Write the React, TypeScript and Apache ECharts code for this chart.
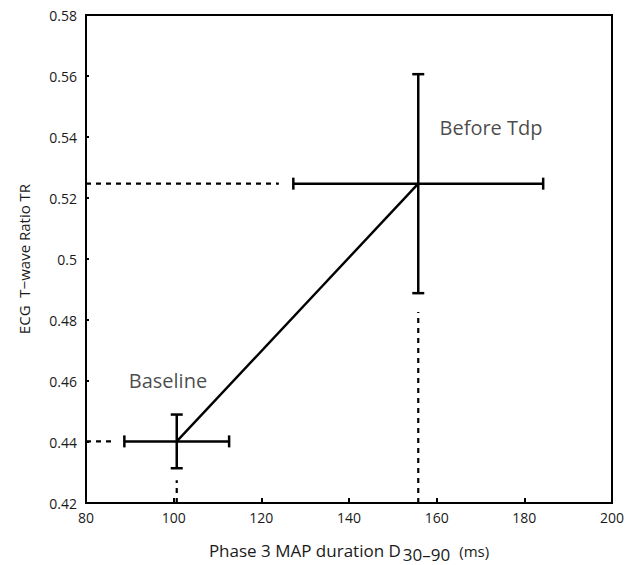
import React, { useEffect, useRef } from "react";
import * as echarts from "echarts";

// ---- data ----
const pointNames = ["Baseline", "Before Tdp"];
const meanD = [100.7, 155.8]; // Phase 3 MAP duration D30-90 (ms)
const meanTR = [0.4402, 0.5247]; // ECG T-wave ratio TR
const errD = [11.95, 28.5];
const errTR = [0.0088, 0.0359];
// dashed guide ends (from the axes toward each point)
const guideEndD = [86.6, 124.0];
const guideEndTR = [0.4275, 0.4826];
// annotation anchors
const labelD = [98.7, 172.4];
const labelTR = [0.4602, 0.5432];

const xTicks = { min: 80, max: 200, interval: 20 };
const yTicks = { min: 0.42, max: 0.58, interval: 0.02 };

const FONT = "Open Sans";
const TXT = "#1a1a1a";

export default function App() {
  const ref = useRef<HTMLDivElement>(null);
  useEffect(() => {
    if (!ref.current) return;
    const chart = echarts.init(ref.current, null, { renderer: "svg" });

    const errData = pointNames.map((_, i) => [
      meanD[i],
      meanTR[i],
      meanD[i] - errD[i],
      meanD[i] + errD[i],
      meanTR[i] - errTR[i],
      meanTR[i] + errTR[i],
    ]);

    const dashStyle = { color: "#000", width: 2.2, type: [5, 5] as any };
    const guideSeries: any[] = [];
    pointNames.forEach((_, i) => {
      guideSeries.push({
        type: "line",
        data: [
          [xTicks.min, meanTR[i]],
          [guideEndD[i], meanTR[i]],
        ],
        symbol: "none",
        lineStyle: dashStyle,
        silent: true,
        z: 2,
      });
      guideSeries.push({
        type: "line",
        data: [
          [meanD[i], yTicks.min],
          [meanD[i], guideEndTR[i]],
        ],
        symbol: "none",
        lineStyle: dashStyle,
        silent: true,
        z: 2,
      });
    });

    chart.setOption({
      animation: false,
      backgroundColor: "#fff",
      textStyle: { fontFamily: FONT },
      grid: {
        left: 86,
        right: 21,
        top: 15,
        bottom: 62,
        outerBoundsMode: "none",
        containLabel: false,
        show: true,
        borderColor: "#000",
        borderWidth: 2,
        backgroundColor: "transparent",
      },
      xAxis: {
        type: "value",
        min: xTicks.min,
        max: xTicks.max,
        interval: xTicks.interval,
        splitLine: { show: false },
        axisLine: { show: true, lineStyle: { color: "#000", width: 2 } },
        axisTick: { show: true, inside: true, length: 5, lineStyle: { color: "#000", width: 2 } },
        axisLabel: { color: TXT, fontSize: 14, margin: 7, fontFamily: FONT },
        name: "{a|Phase 3 MAP duration D}{b|30–90}{c|(ms)}",
        nameLocation: "middle",
        nameGap: 35,
        nameTextStyle: {
          color: TXT,
          fontFamily: FONT,
          rich: {
            a: { fontSize: 17, lineHeight: 25, verticalAlign: "middle", color: TXT, fontFamily: FONT },
            b: { fontSize: 17, lineHeight: 15, verticalAlign: "bottom", color: TXT, fontFamily: FONT, padding: [0, 0, 0, 2] },
            c: { fontSize: 15, lineHeight: 23, verticalAlign: "middle", color: TXT, fontFamily: FONT, padding: [0, 0, 0, 9] },
          },
        },
      },
      yAxis: {
        type: "value",
        min: yTicks.min,
        max: yTicks.max,
        interval: yTicks.interval,
        splitLine: { show: false },
        axisLine: { show: true, lineStyle: { color: "#000", width: 2 } },
        axisTick: { show: true, inside: true, length: 3, lineStyle: { color: "#000", width: 2 } },
        axisLabel: { color: TXT, fontSize: 14, margin: 9, fontFamily: FONT },
        name: "ECG  T−wave Ratio TR",
        nameLocation: "middle",
        nameGap: 55,
        nameTextStyle: { color: TXT, fontSize: 15, fontFamily: FONT },
      },
      series: [
        ...guideSeries,
        {
          type: "line",
          data: pointNames.map((_, i) => [meanD[i], meanTR[i]]),
          symbol: "none",
          lineStyle: { color: "#000", width: 2.4 },
          silent: true,
          z: 3,
        },
        {
          type: "custom",
          data: errData,
          z: 4,
          silent: true,
          renderItem: (params: any, api: any) => {
            const x = api.value(0);
            const y = api.value(1);
            const l = api.coord([api.value(2), y]);
            const r = api.coord([api.value(3), y]);
            const b = api.coord([x, api.value(4)]);
            const t = api.coord([x, api.value(5)]);
            const cap = 6;
            const st = { stroke: "#000", lineWidth: 2.5 };
            const ln = (x1: number, y1: number, x2: number, y2: number) => ({
              type: "line",
              shape: { x1, y1, x2, y2 },
              style: st,
            });
            return {
              type: "group",
              children: [
                ln(l[0], l[1], r[0], r[1]),
                ln(l[0], l[1] - cap, l[0], l[1] + cap),
                ln(r[0], r[1] - cap, r[0], r[1] + cap),
                ln(t[0], t[1], b[0], b[1]),
                ln(t[0] - cap, t[1], t[0] + cap, t[1]),
                ln(b[0] - cap, b[1], b[0] + cap, b[1]),
              ],
            };
          },
        },
        {
          type: "scatter",
          data: pointNames.map((n, i) => ({ value: [labelD[i], labelTR[i]], name: n })),
          symbolSize: 0,
          silent: true,
          label: {
            show: true,
            position: "inside",
            formatter: (p: any) => p.name,
            color: TXT,
            fontSize: 20,
            fontFamily: FONT,
          },
        },
      ],
    });
    return () => chart.dispose();
  }, []);
  return <div ref={ref} style={{ width: 633, height: 565, position: "absolute", left: 0, top: 0 }} />;
}
